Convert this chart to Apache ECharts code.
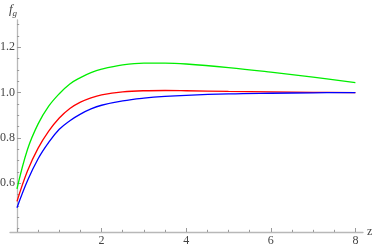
<!DOCTYPE html>
<html><head><meta charset="utf-8">
<script src="https://cdn.jsdelivr.net/npm/echarts@6/dist/echarts.min.js"></script>
<style>html,body{margin:0;padding:0;background:#fff}#c{width:374px;height:247px}</style>
</head><body><div id="c"></div>
<script>
const zValues = [0, 0.25, 0.5, 0.75, 1.0, 1.25, 1.5, 1.75, 2, 2.5, 3, 3.5, 4, 5, 6, 7, 8];
const greenValues = [0.575, 0.75, 0.862, 0.94, 0.995, 1.038, 1.066, 1.088, 1.103, 1.122, 1.13, 1.13, 1.126, 1.11, 1.09, 1.068, 1.044];
const redValues   = [0.52, 0.655, 0.755, 0.83, 0.888, 0.93, 0.958, 0.977, 0.99, 1.003, 1.008, 1.009, 1.008, 1.005, 1.003, 1.001, 1.0];
const blueValues  = [0.492, 0.612, 0.708, 0.78, 0.838, 0.876, 0.905, 0.928, 0.944, 0.963, 0.975, 0.983, 0.988, 0.994, 0.997, 0.999, 1.0];
const xMajorTicks = [0, 2, 4, 6, 8];
const xLabels = [2, 4, 6, 8];
const yLabels = [0.6, 0.8, 1.0, 1.2];

const xMinor = []; for (let v = 0.5; v <= 8; v += 0.5) if (v % 2 !== 0) xMinor.push(v);
const yMinor = []; for (let i = 8; i <= 26; i++) { const v = +(i * 0.05).toFixed(2); if (!yLabels.some(l => Math.abs(l - v) < 1e-6)) yMinor.push(v); }

const pairs = arr => zValues.map((z, i) => [z, arr[i]]);
const serif = "Liberation Serif";
const lineCol = '#b8b8b8', tickCol = '#9a9a9a', txtCol = '#444';

const chart = echarts.init(document.getElementById('c'));
chart.setOption({
  animation: false,
  grid: { left: 10, right: 11, top: 20, bottom: 15, containLabel: false, outerBoundsMode: 'none' },
  xAxis: [{
    type: 'value', min: -0.165, max: 8.18,
    name: 'z', nameLocation: 'end', nameGap: 4,
    nameTextStyle: { fontFamily: serif, fontSize: 12, color: txtCol, verticalAlign: 'middle', padding: [8,0,0,0] },
    axisLine: { show: true, onZero: false, lineStyle: { color: lineCol, width: 1.3 } },
    axisTick: { show: true, inside: true, length: 4, customValues: xMajorTicks, lineStyle: { color: tickCol } },
    axisLabel: { show: true, customValues: xLabels, fontFamily: serif, fontSize: 12, color: txtCol, margin: 3 },
    splitLine: { show: false }
  }, {
    type: 'value', min: -0.165, max: 8.18, position: 'bottom',
    axisLine: { show: false, onZero: false },
    axisTick: { show: true, inside: true, length: 2.2, customValues: xMinor, lineStyle: { color: tickCol } },
    axisLabel: { show: false }, splitLine: { show: false }
  }],
  yAxis: [{
    type: 'value', min: 0.385, max: 1.32, position: 'left',
    axisLine: { show: true, onZero: true, onZeroAxisIndex: 0, lineStyle: { color: lineCol, width: 1.3 } },
    axisTick: { show: true, inside: true, length: 4, customValues: yLabels, lineStyle: { color: tickCol } },
    axisLabel: { show: true, customValues: yLabels, formatter: v => v.toFixed(1), fontFamily: serif, fontSize: 12, color: txtCol, margin: -5 },
    splitLine: { show: false }
  }, {
    type: 'value', min: 0.385, max: 1.32, position: 'left',
    axisLine: { show: false, onZero: true, onZeroAxisIndex: 0 },
    axisTick: { show: true, inside: true, length: 2.2, customValues: yMinor, lineStyle: { color: tickCol } },
    axisLabel: { show: false }, splitLine: { show: false }
  }],
  graphic: [{
    type: 'text', left: 9, top: 3,
    style: {
      text: '{f|f}{g|g}',
      rich: {
        f: { fontFamily: serif, fontStyle: 'italic', fontSize: 13, fill: txtCol },
        g: { fontFamily: serif, fontStyle: 'italic', fontSize: 9, fill: txtCol, padding: [8, 0, 0, 0] }
      }
    }
  }],
  series: [
    { type: 'line', data: pairs(greenValues), smooth: 0.4, showSymbol: false, lineStyle: { color: '#00ee00', width: 1.3 } },
    { type: 'line', data: pairs(redValues), smooth: 0.4, showSymbol: false, lineStyle: { color: '#ff0000', width: 1.3 } },
    { type: 'line', data: pairs(blueValues), smooth: 0.4, showSymbol: false, lineStyle: { color: '#0000ff', width: 1.3 } }
  ]
});
</script></body></html>
